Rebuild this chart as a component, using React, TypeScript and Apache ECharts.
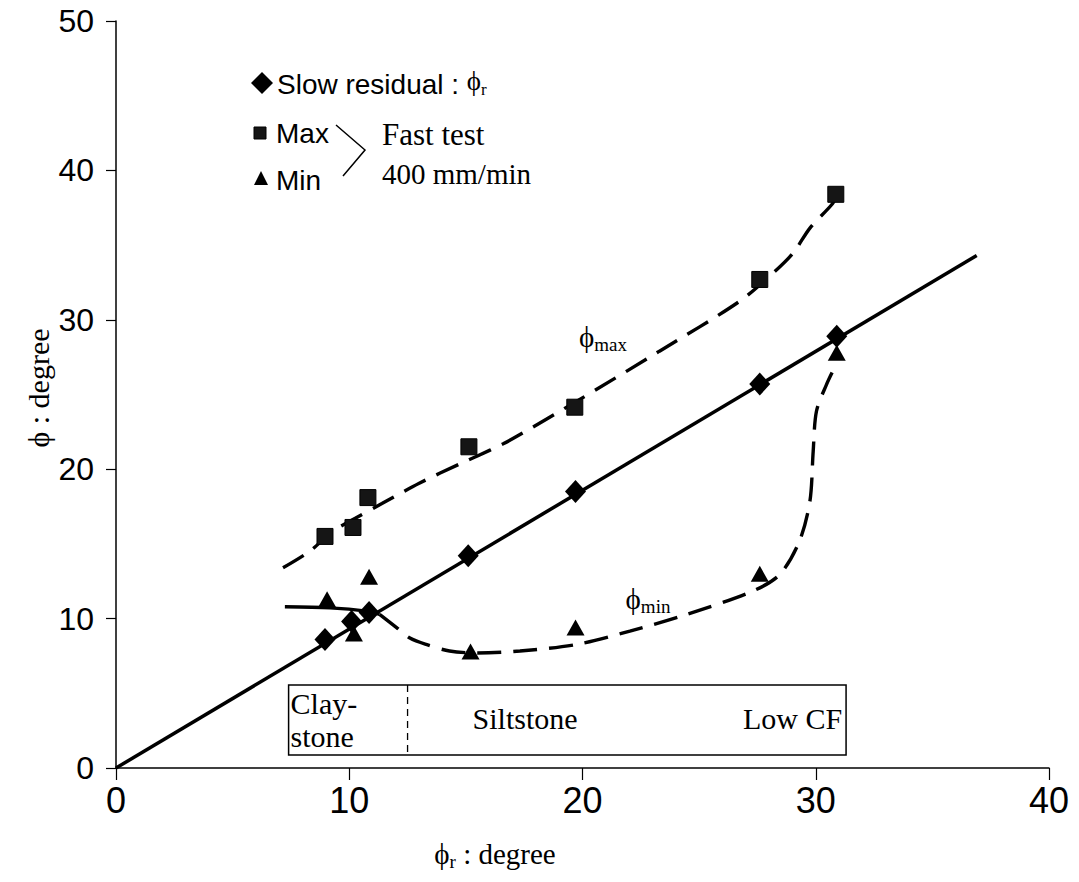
import React, { useEffect, useRef } from "react";
import * as echarts from "echarts";

// ---- axis ticks ----
const xTickValues = [0, 10, 20, 30, 40];
const yTickValues = [0, 10, 20, 30, 40, 50];

// ---- measured points ----
const slowResidualX = [8.96, 10.1, 10.85, 15.1, 19.7, 27.6, 30.9];
const slowResidualY = [8.6, 9.8, 10.4, 14.2, 18.5, 25.7, 28.9];

const fastMaxX = [8.96, 10.16, 10.8, 15.13, 19.67, 27.6, 30.86];
const fastMaxY = [15.5, 16.1, 18.1, 21.5, 24.15, 32.7, 38.4];

const fastMinX = [9.05, 10.2, 10.85, 15.2, 19.7, 27.6, 30.9];
const fastMinY = [11.3, 9.0, 12.8, 7.8, 9.4, 13.0, 27.8];

// ---- trend line phi = f(phi_r) ----
const trendX = [0, 36.9];
const trendY = [0, 34.3];

// ---- phi_max dashed curve ----
const maxCurveX = [7.16, 8.3, 9.3, 10.24, 11.4, 13.0, 14.8, 15.47, 16.6, 17.3, 19.7, 23.3, 26.7, 28.17, 29.03, 29.75, 30.68, 30.95];
const maxCurveY = [13.4, 14.5, 15.85, 16.7, 17.7, 19.06, 20.4, 20.87, 21.7, 22.3, 24.5, 27.9, 31.2, 33.13, 34.47, 36.14, 37.7, 38.4];

// ---- phi_min curve (solid start, dashed rest) ----
const minSolidX = [7.24, 9.17, 10.74, 11.3];
const minSolidY = [10.79, 10.72, 10.5, 10.28];
const minDashX = [11.3, 12.03, 12.6, 13.3, 14.3, 15.5, 17.32, 19.75, 22.03, 24.46, 27.3, 28.46, 29.3, 29.75, 29.89, 30.03, 30.46, 30.8];
const minDashY = [10.28, 9.4, 8.7, 8.27, 7.83, 7.7, 7.83, 8.27, 9.16, 10.28, 11.84, 12.96, 15.18, 17.86, 21.2, 23.88, 25.66, 26.78];

// ---- rock-type bands along phi_r ----
const bandEdges = [7.4, 12.5, 31.3];
const bandLabels = ["Clay-\nstone", "Siltstone", "Low CF"];
const bandYRange = [0.87, 5.55];

const SERIF = "'Liberation Serif', 'Times New Roman', serif";
const SANS = "'Liberation Sans', Arial, Helvetica, sans-serif";
const NARROW = "'Liberation Sans Narrow', 'Arial Narrow', 'Liberation Sans', sans-serif";
const PHI = "\u03D5";

const zip = (xs: number[], ys: number[]) => xs.map((x, i) => [x, ys[i]]);

export default function App() {
  const ref = useRef<HTMLDivElement>(null);

  useEffect(() => {
    document.body.style.margin = "0";
    const chart = echarts.init(ref.current!, null, { renderer: "svg" });

    const dashed = { color: "#000", width: 3.4, type: [24, 12] as any };

    chart.setOption({
      animation: false,
      backgroundColor: "#fff",
      grid: { left: 116, right: 30, top: 21, bottom: 114 },
      xAxis: {
        type: "value",
        min: xTickValues[0],
        max: xTickValues[xTickValues.length - 1],
        interval: 10,
        axisLine: { show: true, onZero: false, lineStyle: { color: "#000", width: 1.5 } },
        axisTick: { show: true, length: 12, lineStyle: { color: "#000", width: 1.2 } },
        splitLine: { show: false },
        axisLabel: { color: "#000", fontFamily: NARROW, fontSize: 36, margin: 14 },
      },
      yAxis: {
        type: "value",
        min: yTickValues[0],
        max: yTickValues[yTickValues.length - 1],
        interval: 10,
        axisLine: { show: true, onZero: false, lineStyle: { color: "#000", width: 1.5 } },
        axisTick: { show: true, length: 10, lineStyle: { color: "#000", width: 1.2 } },
        splitLine: { show: false },
        axisLabel: { color: "#000", fontFamily: SANS, fontSize: 32, margin: 22 },
      },
      series: [
        {
          name: "trend",
          type: "line",
          data: zip(trendX, trendY),
          symbol: "none",
          lineStyle: { color: "#000", width: 3.5 },
          z: 2,
        },
        {
          name: "phi_max curve",
          type: "line",
          data: zip(maxCurveX, maxCurveY),
          symbol: "none",
          smooth: 0.3,
          lineStyle: dashed,
          z: 2,
        },
        {
          name: "phi_min curve solid",
          type: "line",
          data: zip(minSolidX, minSolidY),
          symbol: "none",
          smooth: 0.3,
          lineStyle: { color: "#000", width: 3.4 },
          z: 2,
        },
        {
          name: "phi_min curve",
          type: "line",
          data: zip(minDashX, minDashY),
          symbol: "none",
          smooth: 0.3,
          lineStyle: dashed,
          z: 2,
        },
        {
          name: "Slow residual",
          type: "scatter",
          data: zip(slowResidualX, slowResidualY),
          symbol: "diamond",
          symbolSize: [21, 23],
          itemStyle: { color: "#000", opacity: 1 },
          z: 5,
        },
        {
          name: "Max",
          type: "scatter",
          data: zip(fastMaxX, fastMaxY),
          symbol: "rect",
          symbolSize: 16,
          itemStyle: { color: "#151515", borderColor: "#000", borderWidth: 1, opacity: 1 },
          z: 5,
        },
        {
          name: "Min",
          type: "scatter",
          data: zip(fastMinX, fastMinY),
          symbol: "triangle",
          symbolSize: [18, 16],
          itemStyle: { color: "#000", opacity: 1 },
          z: 5,
        },
      ],
    });

    const p = (x: number, y: number) =>
      chart.convertToPixel({ gridIndex: 0 }, [x, y]) as number[];

    const tl = p(bandEdges[0], bandYRange[1]);
    const br = p(bandEdges[2], bandYRange[0]);
    const mid = p(bandEdges[1], bandYRange[0]);
    const cy = (tl[1] + br[1]) / 2;

    const richPhi = (base: number, sub: number) => ({
      a: { fontFamily: SERIF, fontSize: base, color: "#000", verticalAlign: "bottom", padding: [0, 0, 3, 0] },
      s: { fontFamily: SERIF, fontSize: sub, color: "#000", verticalAlign: "bottom" },
    });

    chart.setOption({
      graphic: [
        // band box
        {
          type: "rect",
          shape: { x: tl[0], y: tl[1], width: br[0] - tl[0], height: br[1] - tl[1] },
          style: { fill: "#fff", stroke: "#000", lineWidth: 1.5 },
          z: 10,
        },
        {
          type: "line",
          shape: { x1: mid[0], y1: tl[1], x2: mid[0], y2: br[1] },
          style: { stroke: "#000", lineWidth: 1.3, lineDash: [7, 5] },
          z: 11,
        },
        {
          type: "text",
          x: tl[0] + 2,
          y: cy,
          style: {
            text: bandLabels[0],
            font: `30px ${SERIF}`,
            fill: "#000",
            align: "left",
            verticalAlign: "middle",
            lineHeight: 33,
          },
          z: 11,
        },
        {
          type: "text",
          x: mid[0] + 65,
          y: cy - 2,
          style: { text: bandLabels[1], font: `30px ${SERIF}`, fill: "#000", align: "left", verticalAlign: "middle" },
          z: 11,
        },
        {
          type: "text",
          x: br[0] - 4,
          y: cy - 2,
          style: { text: bandLabels[2], font: `30px ${SERIF}`, fill: "#000", align: "right", verticalAlign: "middle" },
          z: 11,
        },
        // curve labels
        {
          type: "text",
          x: 603,
          y: 338,
          style: { text: `{a|${PHI}}{s|max}`, rich: richPhi(29, 19), align: "center", verticalAlign: "middle" },
          z: 11,
        },
        {
          type: "text",
          x: 648,
          y: 600,
          style: { text: `{a|${PHI}}{s|min}`, rich: richPhi(29, 19), align: "center", verticalAlign: "middle" },
          z: 11,
        },
        // axis titles
        {
          type: "text",
          x: 495,
          y: 855,
          style: { text: `{a|${PHI}}{s|r}{a| : degree}`, rich: richPhi(29, 19), align: "center", verticalAlign: "middle" },
          z: 11,
        },
        {
          type: "text",
          x: 38,
          y: 388,
          rotation: Math.PI / 2,
          style: { text: `${PHI} : degree`, font: `30px ${SERIF}`, fill: "#000", align: "center", verticalAlign: "middle" },
          z: 11,
        },
        // legend
        {
          type: "polygon",
          shape: { points: [[262, 72], [273, 83], [262, 94], [251, 83]] },
          style: { fill: "#000" },
          z: 11,
        },
        {
          type: "text",
          x: 277,
          y: 83,
          style: {
            text: `{b|Slow residual : }{a|${PHI}}{s|r}`,
            rich: {
              b: { fontFamily: SANS, fontSize: 28, color: "#000", verticalAlign: "bottom", padding: [0, 0, 0, 0] },
              a: { fontFamily: SERIF, fontSize: 27, color: "#000", verticalAlign: "bottom", padding: [0, 0, 4, 0] },
              s: { fontFamily: SERIF, fontSize: 17, color: "#000", verticalAlign: "bottom", padding: [0, 0, 1, 0] },
            },
            align: "left",
            verticalAlign: "middle",
          },
          z: 11,
        },
        {
          type: "rect",
          shape: { x: 254, y: 127, width: 12, height: 12 },
          style: { fill: "#151515", stroke: "#000", lineWidth: 1 },
          z: 11,
        },
        {
          type: "text",
          x: 276,
          y: 133,
          style: { text: "Max", font: `28px ${SANS}`, fill: "#000", align: "left", verticalAlign: "middle" },
          z: 11,
        },
        {
          type: "polygon",
          shape: { points: [[261, 171], [268, 185], [254, 185]] },
          style: { fill: "#000" },
          z: 11,
        },
        {
          type: "text",
          x: 276,
          y: 180,
          style: { text: "Min", font: `28px ${SANS}`, fill: "#000", align: "left", verticalAlign: "middle" },
          z: 11,
        },
        {
          type: "polyline",
          shape: { points: [[336, 125], [365, 150], [343, 176]] },
          style: { stroke: "#000", lineWidth: 1.5, fill: null },
          z: 11,
        },
        {
          type: "text",
          x: 382,
          y: 134,
          style: { text: "Fast test", font: `31px ${SERIF}`, fill: "#000", align: "left", verticalAlign: "middle" },
          z: 11,
        },
        {
          type: "text",
          x: 382,
          y: 174,
          style: { text: "400 mm/min", font: `29px ${SERIF}`, fill: "#000", align: "left", verticalAlign: "middle" },
          z: 11,
        },
      ],
    });

    return () => chart.dispose();
  }, []);

  return <div ref={ref} style={{ width: 1079, height: 882 }} />;
}
